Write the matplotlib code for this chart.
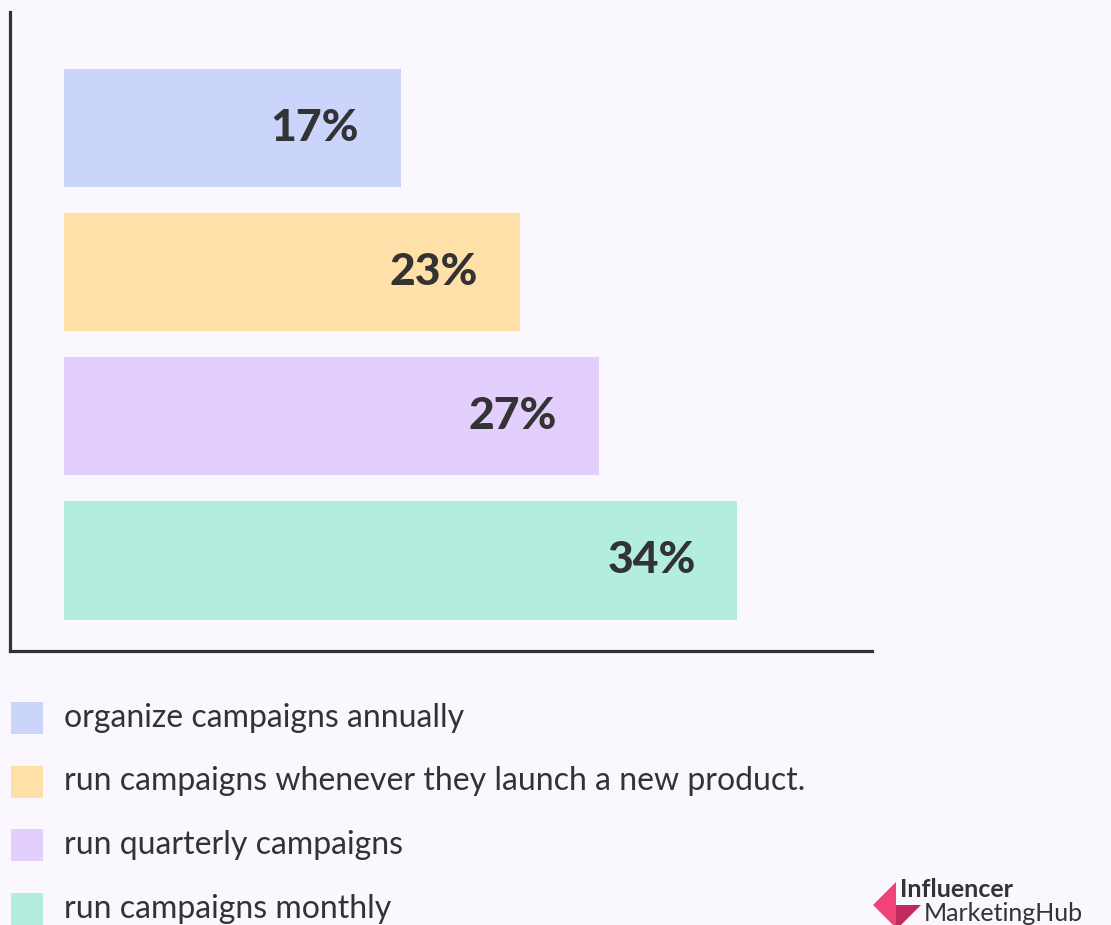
import matplotlib.pyplot as plt
from matplotlib.patches import Rectangle, Polygon

# campaign frequency survey
labels = ["organize campaigns annually",
          "run campaigns whenever they launch a new product.",
          "run quarterly campaigns",
          "run campaigns monthly"]
values = [17, 23, 27, 34]
colors = ["#cbd4fb", "#ffe0a9", "#e3cffd", "#b2eddf"]

bg = "#faf8fe"
ink = "#333333"
W, H = 1111, 925

fig = plt.figure(figsize=(W / 100, H / 100), dpi=100, facecolor=bg)
ax = fig.add_axes([10 / W, 1 - 651 / H, 862 / W, 639 / H])
ax.set_facecolor(bg)

pos = range(len(values))
ax.barh(pos, values, height=0.82, color=colors, left=0)
for p, v in zip(pos, values):
    ax.annotate(f"{v}%", (v, p), xytext=(-30, 0), textcoords="offset points",
                ha="right", va="center", fontsize=32, fontweight="black",
                family="Lato", color=ink)

ax.set_xlim(-2.73, 40.8)
ax.set_ylim(3.628, -0.806)
for s in ["top", "right"]:
    ax.spines[s].set_visible(False)
for s in ["left", "bottom"]:
    ax.spines[s].set_linewidth(2.3)
    ax.spines[s].set_color(ink)
ax.set_xticks([])
ax.set_yticks([])

# legend rows under the axes
for i, (lab, c) in enumerate(zip(labels, colors)):
    yc = 718 + i * 63.5
    fig.patches.append(Rectangle((11 / W, 1 - (yc + 16) / H), 32 / W, 32 / H,
                                 transform=fig.transFigure, color=c, lw=0))
    fig.text(64 / W, 1 - yc / H, lab, ha="left", va="center", fontsize=23,
             family="Lato", color=ink)

# brand mark, bottom right
def px(pts):
    return [(x / W, 1 - y / H) for x, y in pts]

fig.patches.append(Polygon(px([(873, 905), (896, 882), (896, 925), (893, 925)]),
                           closed=True, transform=fig.transFigure,
                           color="#ef4379", lw=0))
fig.patches.append(Polygon(px([(896, 905), (921, 905), (901, 925), (896, 925)]),
                           closed=True, transform=fig.transFigure,
                           color="#c22a5e", lw=0))
fig.text(900 / W, 1 - 897 / H, "Influencer", ha="left", va="baseline",
         fontsize=18, fontweight="bold", family="Lato", color=ink)
fig.text(924 / W, 1 - 921 / H, "MarketingHub", ha="left", va="baseline",
         fontsize=18, family="Lato", color=ink)

fig.savefig("out.png", dpi=100, facecolor=bg)
